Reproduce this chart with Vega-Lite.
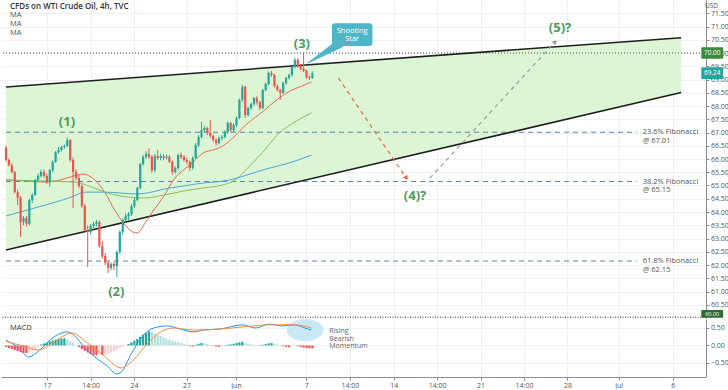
{
"$schema": "https://vega.github.io/schema/vega-lite/v6.json",
"padding": 0,
"spacing": 0,
"background": "white",
"config": {
  "view": {"stroke": null},
  "axis": {"labelFont": "Open Sans", "labelFontSize": 7, "labelColor": "#555", "domainColor": "#8a8d96", "tickColor": "#8a8d96", "gridColor": "#eef0f4", "tickSize": 3, "labelPadding": 1.5, "labelOverlap": false},
  "text": {"font": "Open Sans"}
},
"resolve": {"scale": {"y": "independent"}},
"datasets": {
  "candles": [
{"b":0,"o":66.42,"h":66.5,"l":65.9,"c":65.96},
{"b":1,"o":65.96,"h":66.02,"l":65.72,"c":65.77},
{"b":2,"o":65.77,"h":65.85,"l":65.45,"c":65.51},
{"b":3,"o":65.51,"h":65.55,"l":64.7,"c":64.75},
{"b":4,"o":64.75,"h":64.85,"l":64.26,"c":64.53},
{"b":5,"o":64.53,"h":64.6,"l":63.06,"c":63.62},
{"b":6,"o":63.62,"h":63.85,"l":63.5,"c":63.77},
{"b":7,"o":63.77,"h":63.85,"l":63.45,"c":63.55},
{"b":8,"o":63.55,"h":64.5,"l":63.5,"c":64.45},
{"b":9,"o":64.45,"h":64.7,"l":64.35,"c":64.64},
{"b":10,"o":64.64,"h":65.25,"l":64.6,"c":65.21},
{"b":11,"o":65.21,"h":65.45,"l":65.15,"c":65.36},
{"b":12,"o":65.36,"h":65.6,"l":65.3,"c":65.51},
{"b":13,"o":65.51,"h":65.6,"l":65.3,"c":65.36},
{"b":14,"o":65.36,"h":65.45,"l":65.05,"c":65.13},
{"b":15,"o":65.13,"h":65.62,"l":64.95,"c":65.58},
{"b":16,"o":65.58,"h":65.95,"l":65.5,"c":65.89},
{"b":17,"o":65.89,"h":66.3,"l":65.85,"c":66.26},
{"b":18,"o":66.26,"h":66.45,"l":66.2,"c":66.34},
{"b":19,"o":66.34,"h":66.5,"l":66.28,"c":66.45},
{"b":20,"o":66.45,"h":66.55,"l":66.38,"c":66.49},
{"b":21,"o":66.49,"h":66.8,"l":66.45,"c":66.72},
{"b":22,"o":66.72,"h":66.75,"l":65.9,"c":65.96},
{"b":23,"o":65.96,"h":66.05,"l":64.15,"c":65.51},
{"b":24,"o":65.51,"h":65.6,"l":65.2,"c":65.28},
{"b":25,"o":65.28,"h":65.4,"l":64.9,"c":64.98},
{"b":26,"o":64.98,"h":65.05,"l":64.15,"c":64.23},
{"b":27,"o":64.23,"h":64.3,"l":63.25,"c":63.32},
{"b":28,"o":63.32,"h":63.5,"l":61.92,"c":63.25},
{"b":29,"o":63.25,"h":63.55,"l":63.15,"c":63.47},
{"b":30,"o":63.47,"h":63.62,"l":63.4,"c":63.55},
{"b":31,"o":63.55,"h":63.7,"l":63.45,"c":63.62},
{"b":32,"o":63.62,"h":63.68,"l":62.65,"c":62.72},
{"b":33,"o":62.72,"h":62.9,"l":62.25,"c":62.34},
{"b":34,"o":62.34,"h":62.45,"l":62.0,"c":62.08},
{"b":35,"o":62.08,"h":62.15,"l":61.7,"c":61.89},
{"b":36,"o":61.89,"h":62.1,"l":61.8,"c":62.04},
{"b":37,"o":62.04,"h":62.12,"l":61.8,"c":61.96},
{"b":38,"o":61.96,"h":62.55,"l":61.55,"c":62.49},
{"b":39,"o":62.49,"h":63.3,"l":62.4,"c":63.25},
{"b":40,"o":63.25,"h":63.75,"l":63.15,"c":63.7},
{"b":41,"o":63.7,"h":63.95,"l":63.6,"c":63.85},
{"b":42,"o":63.85,"h":64.0,"l":63.7,"c":63.92},
{"b":43,"o":63.92,"h":64.3,"l":63.85,"c":64.23},
{"b":44,"o":64.23,"h":64.55,"l":64.15,"c":64.45},
{"b":45,"o":64.45,"h":64.95,"l":64.4,"c":64.91},
{"b":46,"o":64.91,"h":65.85,"l":64.85,"c":65.81},
{"b":47,"o":65.81,"h":66.15,"l":65.75,"c":66.08},
{"b":48,"o":66.08,"h":66.3,"l":66.0,"c":66.19},
{"b":49,"o":66.19,"h":66.4,"l":66.0,"c":66.08},
{"b":50,"o":66.08,"h":66.15,"l":65.47,"c":65.58},
{"b":51,"o":65.58,"h":66.2,"l":65.5,"c":66.11},
{"b":52,"o":66.11,"h":66.35,"l":65.95,"c":66.04},
{"b":53,"o":66.04,"h":66.2,"l":65.95,"c":66.11},
{"b":54,"o":66.11,"h":66.18,"l":65.95,"c":66.04},
{"b":55,"o":66.04,"h":66.15,"l":65.98,"c":66.08},
{"b":56,"o":66.08,"h":66.15,"l":65.85,"c":65.89},
{"b":57,"o":65.89,"h":65.95,"l":65.4,"c":65.51},
{"b":58,"o":65.51,"h":65.72,"l":65.45,"c":65.66},
{"b":59,"o":65.66,"h":66.2,"l":65.6,"c":66.15},
{"b":60,"o":66.15,"h":66.25,"l":66.0,"c":66.08},
{"b":61,"o":66.08,"h":66.15,"l":65.9,"c":65.96},
{"b":62,"o":65.96,"h":66.05,"l":65.8,"c":65.89},
{"b":63,"o":65.89,"h":65.95,"l":65.55,"c":65.66},
{"b":64,"o":65.66,"h":66.1,"l":65.6,"c":66.04},
{"b":65,"o":66.04,"h":66.6,"l":66.0,"c":66.53},
{"b":66,"o":66.53,"h":66.9,"l":66.45,"c":66.83},
{"b":67,"o":66.83,"h":67.4,"l":66.78,"c":67.09},
{"b":68,"o":67.09,"h":67.25,"l":67.0,"c":67.17},
{"b":69,"o":67.17,"h":67.22,"l":66.9,"c":66.98},
{"b":70,"o":66.98,"h":67.47,"l":66.8,"c":66.87},
{"b":71,"o":66.87,"h":66.92,"l":66.65,"c":66.72},
{"b":72,"o":66.72,"h":66.78,"l":66.5,"c":66.6},
{"b":73,"o":66.6,"h":66.85,"l":66.55,"c":66.79},
{"b":74,"o":66.79,"h":66.9,"l":66.7,"c":66.83},
{"b":75,"o":66.83,"h":67.08,"l":66.78,"c":67.02},
{"b":76,"o":67.02,"h":67.42,"l":66.95,"c":67.36},
{"b":77,"o":67.36,"h":67.4,"l":67.0,"c":67.09},
{"b":78,"o":67.09,"h":67.35,"l":67.02,"c":67.28},
{"b":79,"o":67.28,"h":67.6,"l":67.2,"c":67.55},
{"b":80,"o":67.55,"h":68.28,"l":67.5,"c":68.23},
{"b":81,"o":68.23,"h":68.79,"l":68.15,"c":68.72},
{"b":82,"o":68.72,"h":68.76,"l":67.55,"c":67.66},
{"b":83,"o":67.66,"h":67.98,"l":67.6,"c":67.92},
{"b":84,"o":67.92,"h":68.12,"l":67.85,"c":68.08},
{"b":85,"o":68.08,"h":68.35,"l":68.0,"c":68.3},
{"b":86,"o":68.3,"h":68.38,"l":68.05,"c":68.15},
{"b":87,"o":68.15,"h":68.2,"l":67.85,"c":67.92},
{"b":88,"o":67.92,"h":68.65,"l":67.88,"c":68.6},
{"b":89,"o":68.6,"h":68.88,"l":68.55,"c":68.83},
{"b":90,"o":68.83,"h":69.3,"l":68.78,"c":69.25},
{"b":91,"o":69.25,"h":69.32,"l":69.1,"c":69.17},
{"b":92,"o":69.17,"h":69.22,"l":68.7,"c":68.75},
{"b":93,"o":68.75,"h":68.82,"l":68.55,"c":68.6},
{"b":94,"o":68.6,"h":68.65,"l":68.23,"c":68.49},
{"b":95,"o":68.49,"h":68.92,"l":68.45,"c":68.87},
{"b":96,"o":68.87,"h":69.1,"l":68.8,"c":69.06},
{"b":97,"o":69.06,"h":69.22,"l":69.0,"c":69.17},
{"b":98,"o":69.17,"h":69.52,"l":69.12,"c":69.47},
{"b":99,"o":69.47,"h":69.81,"l":69.42,"c":69.74},
{"b":100,"o":69.74,"h":69.8,"l":69.45,"c":69.51},
{"b":101,"o":69.51,"h":69.58,"l":69.35,"c":69.4},
{"b":102,"o":69.4,"h":70.0,"l":69.28,"c":69.32},
{"b":103,"o":69.32,"h":69.38,"l":69.02,"c":69.09},
{"b":104,"o":69.09,"h":69.15,"l":68.98,"c":69.06},
{"b":105,"o":69.06,"h":69.3,"l":69.02,"c":69.24}
  ],
  "ma": [
{"b":0,"v":65.21,"s":"MA20"},{"b":6.8,"v":65.17,"s":"MA20"},{"b":13.5,"v":65.13,"s":"MA20"},{"b":18.6,"v":65.21,"s":"MA20"},{"b":22,"v":65.32,"s":"MA20"},{"b":26.4,"v":65.43,"s":"MA20"},{"b":30.4,"v":65.21,"s":"MA20"},{"b":33.8,"v":64.75,"s":"MA20"},{"b":37.2,"v":64.08,"s":"MA20"},{"b":40.5,"v":63.55,"s":"MA20"},{"b":42.9,"v":63.28,"s":"MA20"},{"b":44.9,"v":63.21,"s":"MA20"},{"b":48.3,"v":63.7,"s":"MA20"},{"b":50.7,"v":64.08,"s":"MA20"},{"b":54.1,"v":64.6,"s":"MA20"},{"b":57.4,"v":65.21,"s":"MA20"},{"b":60.8,"v":65.58,"s":"MA20"},{"b":64.2,"v":65.89,"s":"MA20"},{"b":67.6,"v":66.23,"s":"MA20"},{"b":70.9,"v":66.34,"s":"MA20"},{"b":74.3,"v":66.49,"s":"MA20"},{"b":77.7,"v":66.79,"s":"MA20"},{"b":82.1,"v":67.28,"s":"MA20"},{"b":87.8,"v":67.77,"s":"MA20"},{"b":93.6,"v":68.3,"s":"MA20"},{"b":98,"v":68.6,"s":"MA20"},{"b":101.4,"v":68.75,"s":"MA20"},{"b":104.7,"v":68.91,"s":"MA20"},
{"b":0,"v":65.21,"s":"MA50"},{"b":13.5,"v":65.17,"s":"MA50"},{"b":23.6,"v":65.13,"s":"MA50"},{"b":29.4,"v":64.94,"s":"MA50"},{"b":33.8,"v":64.75,"s":"MA50"},{"b":39.5,"v":64.6,"s":"MA50"},{"b":47.3,"v":64.53,"s":"MA50"},{"b":54.1,"v":64.64,"s":"MA50"},{"b":60.8,"v":64.79,"s":"MA50"},{"b":67.6,"v":64.91,"s":"MA50"},{"b":74.3,"v":65.02,"s":"MA50"},{"b":79.4,"v":65.28,"s":"MA50"},{"b":82.1,"v":65.58,"s":"MA50"},{"b":87.8,"v":66.23,"s":"MA50"},{"b":93.6,"v":66.98,"s":"MA50"},{"b":99,"v":67.4,"s":"MA50"},{"b":104.7,"v":67.74,"s":"MA50"},
{"b":0,"v":63.85,"s":"MA100"},{"b":11.1,"v":64.19,"s":"MA100"},{"b":22.6,"v":64.57,"s":"MA100"},{"b":27,"v":64.75,"s":"MA100"},{"b":33.8,"v":64.75,"s":"MA100"},{"b":44.9,"v":64.68,"s":"MA100"},{"b":56.4,"v":64.91,"s":"MA100"},{"b":60.8,"v":64.98,"s":"MA100"},{"b":65.2,"v":65.06,"s":"MA100"},{"b":76.7,"v":65.21,"s":"MA100"},{"b":87.8,"v":65.58,"s":"MA100"},{"b":99,"v":65.92,"s":"MA100"},{"b":104.7,"v":66.15,"s":"MA100"}
  ],
  "macd": [
{"b":0,"v":0.15,"s":"macd"},{"b":4.4,"v":-0.07,"s":"macd"},{"b":7.8,"v":-0.33,"s":"macd"},{"b":11.1,"v":-0.16,"s":"macd"},{"b":16.9,"v":0.27,"s":"macd"},{"b":20.9,"v":0.39,"s":"macd"},{"b":23.6,"v":0.27,"s":"macd"},{"b":27,"v":-0.07,"s":"macd"},{"b":31.4,"v":-0.39,"s":"macd"},{"b":34.8,"v":-0.59,"s":"macd"},{"b":37.8,"v":-0.81,"s":"macd"},{"b":39.5,"v":-0.76,"s":"macd"},{"b":42.9,"v":-0.24,"s":"macd"},{"b":46.3,"v":0.21,"s":"macd"},{"b":49.7,"v":0.47,"s":"macd"},{"b":55.1,"v":0.56,"s":"macd"},{"b":59.8,"v":0.47,"s":"macd"},{"b":64.2,"v":0.39,"s":"macd"},{"b":67.6,"v":0.44,"s":"macd"},{"b":73.3,"v":0.47,"s":"macd"},{"b":81.1,"v":0.59,"s":"macd"},{"b":85.5,"v":0.5,"s":"macd"},{"b":90.2,"v":0.61,"s":"macd"},{"b":94.6,"v":0.56,"s":"macd"},{"b":99,"v":0.59,"s":"macd"},{"b":102.4,"v":0.5,"s":"macd"},{"b":104.7,"v":0.44,"s":"macd"},
{"b":0,"v":0.12,"s":"signal"},{"b":5.7,"v":-0.01,"s":"signal"},{"b":11.1,"v":-0.13,"s":"signal"},{"b":16.9,"v":0.13,"s":"signal"},{"b":22.6,"v":0.36,"s":"signal"},{"b":27,"v":0.13,"s":"signal"},{"b":32.8,"v":-0.24,"s":"signal"},{"b":39.5,"v":-0.64,"s":"signal"},{"b":43.9,"v":-0.39,"s":"signal"},{"b":48.3,"v":0.04,"s":"signal"},{"b":53,"v":0.39,"s":"signal"},{"b":57.4,"v":0.5,"s":"signal"},{"b":64.2,"v":0.44,"s":"signal"},{"b":73.3,"v":0.47,"s":"signal"},{"b":81.1,"v":0.53,"s":"signal"},{"b":90.2,"v":0.59,"s":"signal"},{"b":99,"v":0.59,"s":"signal"},{"b":104.7,"v":0.5,"s":"signal"}
  ],
  "hist": [
{"b":0,"v":-0.04,"k":"F-"},{"b":1,"v":-0.07,"k":"F-"},{"b":2,"v":-0.1,"k":"F-"},{"b":3,"v":-0.13,"k":"F-"},{"b":4,"v":-0.16,"k":"F-"},{"b":5,"v":-0.19,"k":"F-"},{"b":6,"v":-0.21,"k":"F-"},{"b":7,"v":-0.22,"k":"F-"},{"b":8,"v":-0.2,"k":"R-"},{"b":9,"v":-0.15,"k":"R-"},{"b":10,"v":-0.1,"k":"R-"},{"b":11,"v":-0.05,"k":"R-"},{"b":12,"v":0.03,"k":"R+"},{"b":13,"v":0.06,"k":"R+"},{"b":14,"v":0.09,"k":"R+"},{"b":15,"v":0.12,"k":"R+"},{"b":16,"v":0.14,"k":"R+"},{"b":17,"v":0.17,"k":"R+"},{"b":18,"v":0.19,"k":"R+"},{"b":19,"v":0.2,"k":"R+"},{"b":20,"v":0.21,"k":"R+"},{"b":21,"v":0.17,"k":"F+"},{"b":22,"v":0.12,"k":"F+"},{"b":23,"v":0.07,"k":"F+"},{"b":24,"v":0.02,"k":"F+"},{"b":25,"v":-0.04,"k":"F-"},{"b":26,"v":-0.1,"k":"F-"},{"b":27,"v":-0.15,"k":"F-"},{"b":28,"v":-0.2,"k":"F-"},{"b":29,"v":-0.24,"k":"F-"},{"b":30,"v":-0.27,"k":"F-"},{"b":31,"v":-0.28,"k":"F-"},{"b":32,"v":-0.25,"k":"R-"},{"b":33,"v":-0.27,"k":"F-"},{"b":34,"v":-0.26,"k":"R-"},{"b":35,"v":-0.24,"k":"R-"},{"b":36,"v":-0.2,"k":"R-"},{"b":37,"v":-0.16,"k":"R-"},{"b":38,"v":-0.12,"k":"R-"},{"b":39,"v":-0.08,"k":"R-"},{"b":40,"v":-0.04,"k":"R-"},{"b":41,"v":-0.01,"k":"R-"},{"b":42,"v":0.04,"k":"R+"},{"b":43,"v":0.09,"k":"R+"},{"b":44,"v":0.14,"k":"R+"},{"b":45,"v":0.19,"k":"R+"},{"b":46,"v":0.25,"k":"R+"},{"b":47,"v":0.31,"k":"R+"},{"b":48,"v":0.36,"k":"R+"},{"b":49,"v":0.4,"k":"R+"},{"b":50,"v":0.38,"k":"F+"},{"b":51,"v":0.34,"k":"F+"},{"b":52,"v":0.31,"k":"F+"},{"b":53,"v":0.27,"k":"F+"},{"b":54,"v":0.23,"k":"F+"},{"b":55,"v":0.2,"k":"F+"},{"b":56,"v":0.17,"k":"F+"},{"b":57,"v":0.14,"k":"F+"},{"b":58,"v":0.11,"k":"F+"},{"b":59,"v":0.09,"k":"F+"},{"b":60,"v":0.07,"k":"F+"},{"b":61,"v":0.05,"k":"F+"},{"b":62,"v":0.03,"k":"F+"},{"b":63,"v":-0.02,"k":"F-"},{"b":64,"v":-0.03,"k":"F-"},{"b":65,"v":0.02,"k":"R+"},{"b":66,"v":0.05,"k":"R+"},{"b":67,"v":0.07,"k":"R+"},{"b":68,"v":0.06,"k":"F+"},{"b":69,"v":0.04,"k":"F+"},{"b":70,"v":0.02,"k":"F+"},{"b":71,"v":-0.01,"k":"F-"},{"b":72,"v":-0.03,"k":"F-"},{"b":73,"v":-0.04,"k":"F-"},{"b":74,"v":-0.02,"k":"R-"},{"b":75,"v":0.01,"k":"R+"},{"b":76,"v":0.02,"k":"R+"},{"b":77,"v":0.03,"k":"R+"},{"b":78,"v":0.05,"k":"R+"},{"b":79,"v":0.07,"k":"R+"},{"b":80,"v":0.09,"k":"R+"},{"b":81,"v":0.11,"k":"R+"},{"b":82,"v":0.07,"k":"F+"},{"b":83,"v":0.05,"k":"F+"},{"b":84,"v":0.03,"k":"F+"},{"b":85,"v":0.02,"k":"F+"},{"b":86,"v":0.01,"k":"F+"},{"b":87,"v":-0.01,"k":"F-"},{"b":88,"v":0.02,"k":"R+"},{"b":89,"v":0.04,"k":"R+"},{"b":90,"v":0.06,"k":"R+"},{"b":91,"v":0.07,"k":"R+"},{"b":92,"v":0.05,"k":"F+"},{"b":93,"v":0.03,"k":"F+"},{"b":94,"v":0.01,"k":"F+"},{"b":95,"v":-0.02,"k":"F-"},{"b":96,"v":-0.04,"k":"F-"},{"b":97,"v":-0.05,"k":"F-"},{"b":98,"v":-0.03,"k":"R-"},{"b":99,"v":-0.01,"k":"R-"},{"b":100,"v":-0.02,"k":"F-"},{"b":101,"v":-0.04,"k":"F-"},{"b":102,"v":-0.06,"k":"F-"},{"b":103,"v":-0.07,"k":"F-"},{"b":104,"v":-0.08,"k":"F-"},{"b":105,"v":-0.08,"k":"F-"}
  ]
},
"vconcat": [
{
  "width": 705,
  "height": 318,
  "resolve": {"scale": {"color": "independent", "size": "independent"}},
  "layer": [
    {
      "data": {"values": [{"b":0,"up":68.72,"lo":62.57},{"b":231.4,"up":70.58,"lo":68.51}]},
      "mark": {"type": "area", "color": "#dcf5d4"},
      "encoding": {
        "x": {"field": "b", "type": "quantitative", "title": null, "scale": {"domain": [0, 238.2], "nice": false, "zero": false},
          "axis": {"orient": "bottom", "labels": false, "ticks": false, "domain": false, "grid": true, "title": null, "minExtent": 0, "maxExtent": 0, "offset": 0, "tickCount": 100,
            "values": [14.09,28.99,43.89,61.89,78.82,102.94,117.84,132.87,147.77,162.64,177.53,192.43,209.97,228.48]}},
        "y": {"field": "up", "type": "quantitative", "title": null, "scale": {"domain": [60, 72], "nice": false, "zero": false},
          "axis": {"orient": "right", "title": null, "format": ".2f", "grid": true, "labelOverlap": false, "labelBound": false, "labelFlush": false, "tickCount": 100,
            "values": [60.5,61,61.5,62,62.5,63,63.5,64,64.5,65,65.5,66,66.5,67,67.5,68,68.5,69,69.5,70,70.5,71,71.5]}},
        "y2": {"field": "lo"}
      }
    },
    {
      "data": {"values": [{"p":67.01},{"p":65.15},{"p":62.15}]},
      "mark": {"type": "rule", "color": "#5a86ad", "strokeDash": [5, 4], "strokeWidth": 1},
      "encoding": {"x": {"datum": 0, "type": "quantitative"}, "x2": {"datum": 216.2}, "y": {"field": "p", "type": "quantitative", "title": null}}
    },
    {
      "data": {"values": [{"p":70}]},
      "mark": {"type": "rule", "color": "#555", "strokeDash": [1, 2], "strokeWidth": 1},
      "encoding": {"y": {"field": "p", "type": "quantitative", "title": null}}
    },
    {
      "data": {"values": [{"p":60.03}]},
      "mark": {"type": "rule", "color": "#333", "strokeDash": [1, 1.5], "strokeWidth": 1},
      "encoding": {"y": {"field": "p", "type": "quantitative", "title": null}}
    },
    {
      "data": {"values": [{"b":0,"up":68.72,"lo":62.57},{"b":231.4,"up":70.58,"lo":68.51}]},
      "mark": {"type": "line", "color": "#1e1e1e", "strokeWidth": 1.5},
      "encoding": {"x": {"field": "b", "type": "quantitative", "title": null}, "y": {"field": "up", "type": "quantitative", "title": null}}
    },
    {
      "data": {"values": [{"b":0,"up":68.72,"lo":62.57},{"b":231.4,"up":70.58,"lo":68.51}]},
      "mark": {"type": "line", "color": "#1e1e1e", "strokeWidth": 1.5},
      "encoding": {"x": {"field": "b", "type": "quantitative", "title": null}, "y": {"field": "lo", "type": "quantitative", "title": null}}
    },
    {
      "data": {"name": "ma"},
      "mark": {"type": "line", "strokeWidth": 1, "interpolate": "monotone"},
      "encoding": {
        "x": {"field": "b", "type": "quantitative", "title": null},
        "y": {"field": "v", "type": "quantitative", "title": null},
        "color": {"field": "s", "type": "nominal", "legend": null, "scale": {"domain": ["MA20","MA50","MA100"], "range": ["#ee6a4c","#8dbd5c","#4aa6d6"]}}
      }
    },
    {
      "data": {"name": "candles"},
      "mark": {"type": "rule", "strokeWidth": 1},
      "encoding": {
        "x": {"field": "b", "type": "quantitative", "title": null},
        "y": {"field": "l", "type": "quantitative", "title": null},
        "y2": {"field": "h"},
        "color": {"condition": {"test": "datum.c >= datum.o", "value": "#26a69a"}, "value": "#ef5350"}
      }
    },
    {
      "data": {"name": "candles"},
      "mark": {"type": "bar", "width": 2.2},
      "encoding": {
        "x": {"field": "b", "type": "quantitative", "title": null},
        "y": {"field": "o", "type": "quantitative", "title": null},
        "y2": {"field": "c"},
        "color": {"condition": {"test": "datum.c >= datum.o", "value": "#26a69a"}, "value": "#ef5350"}
      }
    },
    {
      "data": {"values": [{"b":113.9,"p":69.06},{"b":137.2,"p":65.28}]},
      "mark": {"type": "line", "color": "#f0643c", "strokeDash": [4, 4], "strokeWidth": 1.2},
      "encoding": {"x": {"field": "b", "type": "quantitative", "title": null}, "y": {"field": "p", "type": "quantitative", "title": null}}
    },
    {
      "data": {"values": [{"b":145.3,"p":65.28},{"b":188.2,"p":70.42}]},
      "mark": {"type": "line", "color": "#9a9a9a", "strokeDash": [4, 4], "strokeWidth": 1.2},
      "encoding": {"x": {"field": "b", "type": "quantitative", "title": null}, "y": {"field": "p", "type": "quantitative", "title": null}}
    },
    {
      "data": {"values": [{"b":137.2,"p":65.28}]},
      "mark": {"type": "point", "shape": "triangle-up", "size": 28, "filled": true, "color": "#f0643c", "angle": 145, "opacity": 1},
      "encoding": {"x": {"field": "b", "type": "quantitative", "title": null}, "y": {"field": "p", "type": "quantitative", "title": null}}
    },
    {
      "data": {"values": [{"b":188.2,"p":70.42}]},
      "mark": {"type": "point", "shape": "triangle-up", "size": 28, "filled": true, "color": "#9a9a9a", "angle": 43, "opacity": 1},
      "encoding": {"x": {"field": "b", "type": "quantitative", "title": null}, "y": {"field": "p", "type": "quantitative", "title": null}}
    },
    {
      "data": {"values": [{"b":20.9,"p":67.4,"t":"(1)"},{"b":37.8,"p":60.98,"t":"(2)"},{"b":101.4,"p":70.34,"t":"(3)"},{"b":140.2,"p":64.6,"t":"(4)?"},{"b":189.9,"p":70.94,"t":"(5)?"}]},
      "mark": {"type": "text", "font": "Open Sans", "fontSize": 13, "fontWeight": "bold", "color": "#4a9e5c", "align": "center", "baseline": "middle"},
      "encoding": {"x": {"field": "b", "type": "quantitative", "title": null}, "y": {"field": "p", "type": "quantitative", "title": null}, "text": {"field": "t"}}
    },
    {
      "data": {"values": [{"b":218.2,"p":67.01,"t":"23.6% Fibonacci\n@ 67.01"},{"b":218.2,"p":65.15,"t":"38.2% Fibonacci\n@ 65.15"},{"b":218.2,"p":62.15,"t":"61.8% Fibonacci\n@ 62.15"}]},
      "mark": {"type": "text", "fontSize": 7.5, "color": "#555", "align": "left", "baseline": "middle", "lineBreak": "\n", "lineHeight": 8.5},
      "encoding": {"x": {"field": "b", "type": "quantitative", "title": null}, "y": {"field": "p", "type": "quantitative", "title": null}, "text": {"field": "t"}}
    },
    {
      "data": {"values": [{"b":114.2,"p":70.34,"e":"base"},{"b":103.4,"p":69.62,"e":"tip"}]},
      "mark": {"type": "trail", "color": "#4fb6c8"},
      "encoding": {
        "x": {"field": "b", "type": "quantitative", "title": null},
        "y": {"field": "p", "type": "quantitative", "title": null},
        "size": {"field": "e", "type": "ordinal", "legend": null, "scale": {"domain": ["base","tip"], "range": [9, 1]}}
      }
    },
    {
      "data": {"values": [{"b1":111.7,"b2":125.6,"p1":70.26,"p2":71.12}]},
      "mark": {"type": "rect", "color": "#4fb6c8", "cornerRadius": 3},
      "encoding": {
        "x": {"field": "b1", "type": "quantitative", "title": null}, "x2": {"field": "b2"},
        "y": {"field": "p1", "type": "quantitative", "title": null}, "y2": {"field": "p2"}
      }
    },
    {
      "data": {"values": [{"b":118.65,"p":70.69,"t":"Shooting\nStar"}]},
      "mark": {"type": "text", "fontSize": 7.5, "color": "white", "align": "center", "baseline": "middle", "lineBreak": "\n", "lineHeight": 8.5, "dy": -4.2},
      "encoding": {"x": {"field": "b", "type": "quantitative", "title": null}, "y": {"field": "p", "type": "quantitative", "title": null}, "text": {"field": "t"}}
    },
    {
      "data": {"values": [{"b":1.35,"p":71.74,"t":"CFDs on WTI Crude Oil, 4h, TVC"}]},
      "mark": {"type": "text", "fontSize": 8, "fontWeight": 600, "color": "#333", "align": "left", "baseline": "middle"},
      "encoding": {"x": {"field": "b", "type": "quantitative", "title": null}, "y": {"field": "p", "type": "quantitative", "title": null}, "text": {"field": "t"}}
    },
    {
      "data": {"values": [{"b":1.35,"p":71.42,"t":"MA"},{"b":1.35,"p":71.09,"t":"MA"},{"b":1.35,"p":70.77,"t":"MA"}]},
      "mark": {"type": "text", "fontSize": 7.5, "color": "#555", "align": "left", "baseline": "middle"},
      "encoding": {"x": {"field": "b", "type": "quantitative", "title": null}, "y": {"field": "p", "type": "quantitative", "title": null}, "text": {"field": "t"}}
    },
    {
      "data": {"values": [{"b1":238.3,"b2":245.8,"p1":69.78,"p2":70.22,"k":"level"},{"b1":238.3,"b2":245.8,"p1":69.02,"p2":69.46,"k":"last"},{"b1":238.3,"b2":245.8,"p1":60.01,"p2":60.3,"k":"pane"}]},
      "mark": {"type": "rect", "cornerRadius": 1},
      "encoding": {
        "x": {"field": "b1", "type": "quantitative", "title": null}, "x2": {"field": "b2"},
        "y": {"field": "p1", "type": "quantitative", "title": null}, "y2": {"field": "p2"},
        "color": {"field": "k", "type": "nominal", "legend": null, "scale": {"domain": ["level","last","pane"], "range": ["#3b8a3e","#26a69a","#2e6b30"]}}
      }
    },
    {
      "data": {"values": [{"b":242.05,"p":70,"t":"70.00"},{"b":242.05,"p":69.24,"t":"69.24"}]},
      "mark": {"type": "text", "fontSize": 6.5, "color": "white", "align": "center", "baseline": "middle"},
      "encoding": {"x": {"field": "b", "type": "quantitative", "title": null}, "y": {"field": "p", "type": "quantitative", "title": null}, "text": {"field": "t"}}
    },
    {
      "data": {"values": [{"b":242.05,"p":60.155,"t":"60.00"}]},
      "mark": {"type": "text", "fontSize": 5.5, "color": "white", "align": "center", "baseline": "middle"},
      "encoding": {"x": {"field": "b", "type": "quantitative", "title": null}, "y": {"field": "p", "type": "quantitative", "title": null}, "text": {"field": "t"}}
    },
    {
      "data": {"values": [{"b":241.8,"p":71.76,"t":"USD"}]},
      "mark": {"type": "text", "fontSize": 6.5, "color": "#555", "align": "center", "baseline": "middle"},
      "encoding": {"x": {"field": "b", "type": "quantitative", "title": null}, "y": {"field": "p", "type": "quantitative", "title": null}, "text": {"field": "t"}}
    }
  ]
},
{
  "width": 705,
  "height": 58,
  "resolve": {"scale": {"color": "independent"}},
  "layer": [
    {
      "data": {"values": [{"b":102.5,"v":0.44}]},
      "mark": {"type": "point", "shape": "M -1 0 A 1 0.6 0 1 0 1 0 A 1 0.6 0 1 0 -1 0 Z", "size": 1369, "filled": true, "color": "#bfe6f3", "opacity": 0.85, "strokeWidth": 0},
      "encoding": {
        "x": {"field": "b", "type": "quantitative", "title": null, "scale": {"domain": [0, 238.2], "nice": false, "zero": false},
          "axis": {"orient": "bottom", "title": null, "grid": true, "labelOverlap": false, "tickCount": 100,
            "values": [14.09,28.99,43.89,61.89,78.82,102.94,117.84,132.87,147.77,162.64,177.53,192.43,209.97,228.48],
            "labelExpr": "['17','14:00','24','27','Jun','7','14:00','14','14:00','21','14:00','28','Jul','6'][indexof([14.09,28.99,43.89,61.89,78.82,102.94,117.84,132.87,147.77,162.64,177.53,192.43,209.97,228.48], datum.value)]"}},
        "y": {"field": "v", "type": "quantitative", "title": null, "scale": {"domain": [-0.9, 0.757], "nice": false, "zero": false},
          "axis": {"orient": "right", "title": null, "format": ".2f", "grid": true, "labelOverlap": false, "tickCount": 100, "values": [-0.5, 0, 0.5]}}
      }
    },
    {
      "data": {"name": "hist"},
      "mark": {"type": "bar", "width": 2.2},
      "encoding": {
        "x": {"field": "b", "type": "quantitative", "title": null},
        "y": {"field": "v", "type": "quantitative", "title": null},
        "y2": {"datum": 0},
        "color": {"field": "k", "type": "nominal", "legend": null, "scale": {"domain": ["R+","F+","F-","R-"], "range": ["#26a69a","#b2dfdb","#ef5350","#ffcdd2"]}}
      }
    },
    {
      "data": {"name": "macd"},
      "mark": {"type": "line", "strokeWidth": 1, "interpolate": "monotone"},
      "encoding": {
        "x": {"field": "b", "type": "quantitative", "title": null},
        "y": {"field": "v", "type": "quantitative", "title": null},
        "color": {"field": "s", "type": "nominal", "legend": null, "scale": {"domain": ["macd","signal"], "range": ["#2196f3","#ff8a3d"]}}
      }
    },
    {
      "data": {"values": [{"b":1.35,"v":0.51,"t":"MACD"}]},
      "mark": {"type": "text", "fontSize": 7.5, "color": "#333", "align": "left", "baseline": "middle"},
      "encoding": {"x": {"field": "b", "type": "quantitative", "title": null}, "y": {"field": "v", "type": "quantitative", "title": null}, "text": {"field": "t"}}
    },
    {
      "data": {"values": [{"b":110.8,"v":0.4,"t":"Rising\nBearish\nMomentum"}]},
      "mark": {"type": "text", "fontSize": 7, "color": "#666", "align": "left", "baseline": "middle", "lineBreak": "\n", "lineHeight": 7.5},
      "encoding": {"x": {"field": "b", "type": "quantitative", "title": null}, "y": {"field": "v", "type": "quantitative", "title": null}, "text": {"field": "t"}}
    }
  ]
}
]
}
